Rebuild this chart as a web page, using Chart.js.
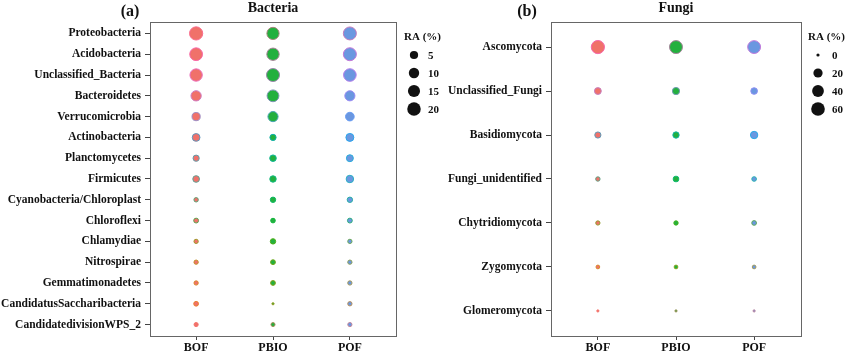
<!DOCTYPE html>
<html>
<head>
<meta charset="utf-8">
<script src="https://cdn.jsdelivr.net/npm/chart.js@4.4.1/dist/chart.umd.min.js"></script>
<style>
  body { margin: 0; background: #fff; width: 850px; height: 354px; position: relative; overflow: hidden; }
  .panel { position: absolute; top: 0; height: 354px; }
  #wrapA { left: 0; width: 460px; }
  #wrapB { left: 420px; width: 430px; }
</style>
</head>
<body>
<div class="panel" id="wrapA"><canvas id="chartA" width="460" height="354"></canvas></div>
<div class="panel" id="wrapB"><canvas id="chartB" width="430" height="354"></canvas></div>
<script>
// groups on the x axis
const groups = ['BOF', 'PBIO', 'POF'];
const groupColors = ['#F0716A', '#23B03E', '#6A97E0'];

// (a) bacteria, relative abundance %
const bacteriaPhyla = ['Proteobacteria', 'Acidobacteria', 'Unclassified_Bacteria', 'Bacteroidetes',
  'Verrucomicrobia', 'Actinobacteria', 'Planctomycetes', 'Firmicutes', 'Cyanobacteria/Chloroplast',
  'Chloroflexi', 'Chlamydiae', 'Nitrospirae', 'Gemmatimonadetes', 'CandidatusSaccharibacteria',
  'CandidatedivisionWPS_2'];
const bacteriaBOF  = [22.8, 21, 19.5, 12.5, 7, 6, 3.3, 4, 1.2, 1.6, 1.1, 1.1, 1.1, 1.5, 1.0];
const bacteriaPBIO = [19, 19.5, 22, 17.5, 12, 3.3, 3.8, 3.6, 2.2, 1.4, 2.2, 1.6, 1.6, 0.28, 0.9];
const bacteriaPOF  = [22, 22, 20.5, 12, 8, 6.5, 4.5, 5.5, 2.2, 1.6, 1.1, 1.1, 1.1, 1.1, 1.0];
const bacteriaLegend = [5, 10, 15, 20];

// (b) fungi, relative abundance %
const fungiPhyla = ['Ascomycota', 'Unclassified_Fungi', 'Basidiomycota', 'Fungi_unidentified',
  'Chytridiomycota', 'Zygomycota', 'Glomeromycota'];
const fungiBOF  = [66, 12, 9, 3, 2.6, 1.6, 0.3];
const fungiPBIO = [63, 14, 9.5, 7, 2.8, 1.6, 0.3];
const fungiPOF  = [62, 11, 15, 3.6, 3.8, 1.6, 0.3];
const fungiLegend = [0, 20, 40, 60];

// outline colours, one per phylum (hue palette, bottom row first)
const bacteriaRowColors = ['#F8766D', '#E58700', '#C99800', '#A3A500', '#6BB100', '#00BA38', '#00BF7D',
  '#00C0AF', '#00BCD8', '#00B0F6', '#619CFF', '#B983FF', '#E76BF3', '#FD61D1', '#FF67A4'].reverse();
const fungiRowColors = ['#F8766D', '#C49A00', '#53B400', '#00C094', '#00B6EB', '#A58AFF', '#FB61D7'].reverse();

Chart.defaults.font.family = "'Liberation Serif', 'Times New Roman', serif";
Chart.defaults.font.weight = 'bold';
Chart.defaults.color = '#111';

function makeSize(values) {
  const all = values.flat();
  const lo = Math.min(...all), hi = Math.max(...all);
  return v => 3.2 + 11 * Math.sqrt(Math.max(0, v - lo) / (hi - lo));
}

// mix the phylum colour into the group fill for a soft outline
function mix(a, b, t) {
  const pa = [1, 3, 5].map(k => parseInt(a.slice(k, k + 2), 16));
  const pb = [1, 3, 5].map(k => parseInt(b.slice(k, k + 2), 16));
  return 'rgb(' + pa.map((v, i) => Math.round(v * (1 - t) + pb[i] * t)).join(',') + ')';
}

function drawPanel(id, cfg) {
  const size = makeSize(cfg.values);
  const n = cfg.phyla.length;

  const datasets = groups.map((g, gi) => ({
    label: g,
    data: cfg.phyla.map((p, i) => ({ x: gi, y: i, v: cfg.values[gi][i] })),
    backgroundColor: groupColors[gi],
    borderColor: cfg.rowColors.map(c => mix(groupColors[gi], c, 0.6)),
    borderWidth: 1,
    radius: ctx => size(ctx.raw.v) / 2 - 0.5
  }));

  const decor = {
    id: 'decor',
    afterDraw(chart) {
      const c = chart.ctx, a = chart.chartArea;
      c.save();
      c.strokeStyle = '#666';
      c.lineWidth = 1;
      c.strokeRect(a.left + 0.5, a.top + 0.5, a.right - a.left, a.bottom - a.top);

      c.fillStyle = '#111';
      c.textBaseline = 'middle';
      c.textAlign = 'center';
      c.font = "bold 16px 'Liberation Serif'";
      c.fillText(cfg.tag, cfg.tagX, 12);
      c.font = "bold 14px 'Liberation Serif'";
      c.fillText(cfg.title, (a.left + a.right) / 2, 8);

      // size legend
      c.textAlign = 'left';
      c.font = "bold 11px 'Liberation Serif'";
      c.fillText('RA (%)', cfg.legX, 37);
      cfg.legend.forEach((v, i) => {
        const y = 55 + i * 18;
        c.beginPath();
        c.arc(cfg.legX + 10, y, size(v) / 2, 0, Math.PI * 2);
        c.fill();
        c.fillText(String(v), cfg.legX + 24, y + 1);
      });
      c.restore();
    }
  };

  new Chart(document.getElementById(id), {
    type: 'bubble',
    data: { datasets },
    options: {
      responsive: false,
      animation: false,
      events: [],
      layout: { autoPadding: false, padding: { top: 22, right: cfg.padRight, left: 0, bottom: 0 } },
      plugins: { legend: { display: false }, tooltip: { enabled: false } },
      scales: {
        x: {
          type: 'linear', min: -0.6, max: 2.6,
          afterBuildTicks: s => { s.ticks = groups.map((g, i) => ({ value: i })); },
          afterFit: s => { s.height = 18; },
          ticks: { callback: v => groups[v], font: { size: 12, weight: 'bold' }, color: '#111',
                   maxRotation: 0, autoSkip: false, padding: 1 },
          grid: { drawOnChartArea: false, tickLength: 4, tickColor: '#444' },
          border: { color: '#666' }
        },
        y: {
          type: 'linear', reverse: true, min: -cfg.yPad, max: n - 1 + cfg.yPad,
          afterBuildTicks: s => { s.ticks = cfg.phyla.map((p, i) => ({ value: i })); },
          afterFit: s => { s.width = cfg.axisW; },
          ticks: { callback: v => cfg.phyla[v], font: { size: 11.5, weight: 'bold' }, color: '#111',
                   autoSkip: false, padding: 4 },
          grid: { drawOnChartArea: false, tickLength: 5, tickColor: '#444' },
          border: { color: '#666' }
        }
      }
    },
    plugins: [decor]
  });
}

drawPanel('chartA', {
  phyla: bacteriaPhyla,
  values: [bacteriaBOF, bacteriaPBIO, bacteriaPOF],
  rowColors: bacteriaRowColors,
  legend: bacteriaLegend,
  title: 'Bacteria', tag: '(a)', tagX: 130,
  axisW: 150, padRight: 64, yPad: 0.55, legX: 404
});

drawPanel('chartB', {
  phyla: fungiPhyla,
  values: [fungiBOF, fungiPBIO, fungiPOF],
  rowColors: fungiRowColors,
  legend: fungiLegend,
  title: 'Fungi', tag: '(b)', tagX: 107,
  axisW: 131, padRight: 49, yPad: 0.57, legX: 388
});
</script>
</body>
</html>
